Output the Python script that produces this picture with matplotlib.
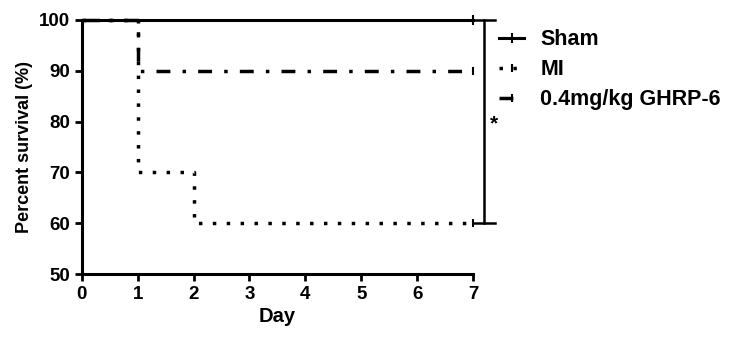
import matplotlib
matplotlib.use('Agg')
import matplotlib.pyplot as plt

plt.rcParams['font.family'] = ['Liberation Sans', 'DejaVu Sans']
plt.rcParams['font.weight'] = 'bold'

# survival steps (day, percent)
days = [0, 1, 2, 7]
sham = [100, 100, 100, 100]
mi = [100, 70, 60, 60]
ghrp = [100, 90, 90, 90]

xticks = [0, 1, 2, 3, 4, 5, 6, 7]
yticks = [50, 60, 70, 80, 90, 100]

fig = plt.figure(figsize=(7.3, 3.44), dpi=100)
ax = fig.add_axes([0.112, 0.203, 0.536, 0.739])

ax.step(days, sham, where='post', color='black', lw=2.2, label='Sham', clip_on=False,
        marker='|', markevery=[3], ms=7, mew=1.5)
ax.step(days, mi, where='post', color='black', lw=2.5, ls=(0, (1, 3)), label='MI',
        clip_on=False, marker='|', markevery=[3], ms=6, mew=1.5)
ax.step(days, ghrp, where='post', color='black', lw=2.5, ls=(0, (4, 3.5, 1, 3.5)),
        label='0.4mg/kg GHRP-6', clip_on=False, marker='|', markevery=[3], ms=6, mew=1.5)

ax.set_xlim(0, 7)
ax.set_ylim(50, 100)
ax.set_xticks(xticks)
ax.set_yticks(yticks)
ax.tick_params(labelsize=13.5, width=2, length=5)
ax.set_xlabel('Day', fontsize=14.5, fontweight='bold', labelpad=3)
ax.set_ylabel('Percent survival (%)', fontsize=13, fontweight='bold')
for s in ['top', 'right']:
    ax.spines[s].set_visible(False)
for s in ['left', 'bottom']:
    ax.spines[s].set_linewidth(2.2)

# significance bracket between Sham and MI
bx = 7.2
ax.plot([bx, bx], [60, 100], color='black', lw=1.8, clip_on=False)
ax.plot([7.0, 7.4], [100, 100], color='black', lw=1.8, clip_on=False)
ax.plot([7.0, 7.4], [60, 60], color='black', lw=1.8, clip_on=False)
ax.text(7.37, 79.5, '*', fontsize=15, fontweight='bold', ha='center', va='center')

leg = ax.legend(loc='upper left', bbox_to_anchor=(1.045, 0.997), frameon=False,
                fontsize=15.5, handlelength=1.15, handletextpad=0.75, labelspacing=0.42,
                borderaxespad=0)
for t in leg.get_texts():
    t.set_fontweight('bold')

fig.savefig('out.png', dpi=100)
